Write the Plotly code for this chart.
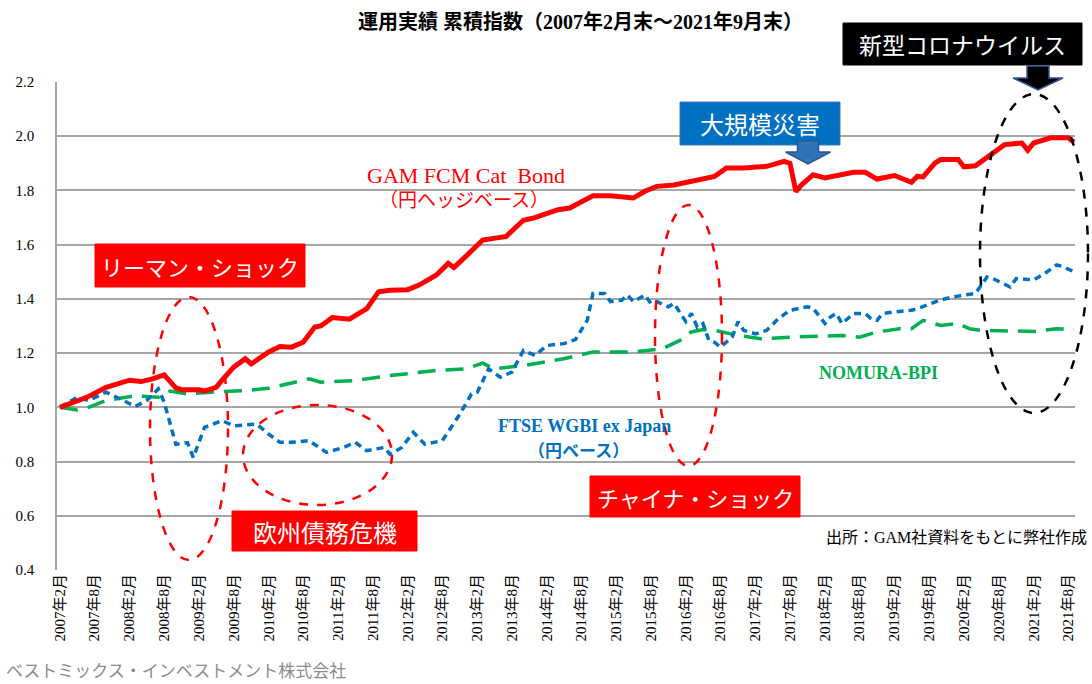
import pandas as pd
import plotly.graph_objects as go

# ---- data (month offsets from 2007-02, index value) ----
tick_labels = ["2007年2月", "2007年8月", "2008年2月", "2008年8月", "2009年2月", "2009年8月",
               "2010年2月", "2010年8月", "2011年2月", "2011年8月", "2012年2月", "2012年8月",
               "2013年2月", "2013年8月", "2014年2月", "2014年8月", "2015年2月", "2015年8月",
               "2016年2月", "2016年8月", "2017年2月", "2017年8月", "2018年2月", "2018年8月",
               "2019年2月", "2019年8月", "2020年2月", "2020年8月", "2021年2月", "2021年8月"]

gam_m = [0, 5, 8, 12, 14, 16, 18, 20, 21, 24, 25, 27, 28, 30, 32, 33, 36, 38, 40, 42, 44, 45, 47, 50,
         53, 55, 57, 60, 62, 65, 67, 68, 70, 73, 76, 77, 80, 82, 85, 86, 88, 92, 95, 99, 101, 103, 106,
         109, 113, 115, 118, 122, 125, 126, 127, 128, 130, 132, 135, 137, 139, 141, 144, 145, 147, 148,
         149, 151, 152, 155, 156, 158, 161, 163, 166, 167, 168, 171, 174, 175]
gam_v = [1.00, 1.04, 1.074, 1.10, 1.095, 1.105, 1.12, 1.072, 1.065, 1.065, 1.06, 1.074, 1.10, 1.148,
         1.179, 1.16, 1.204, 1.224, 1.222, 1.24, 1.296, 1.30, 1.331, 1.325, 1.364, 1.426, 1.432, 1.434,
         1.451, 1.488, 1.531, 1.516, 1.556, 1.617, 1.627, 1.63, 1.69, 1.70, 1.722, 1.729, 1.735, 1.78,
         1.78, 1.772, 1.797, 1.815, 1.82, 1.833, 1.852, 1.883, 1.883, 1.889, 1.907, 1.90, 1.796, 1.821,
         1.858, 1.846, 1.858, 1.867, 1.867, 1.842, 1.855, 1.846, 1.83, 1.852, 1.85, 1.901, 1.914, 1.914,
         1.887, 1.891, 1.938, 1.969, 1.975, 1.948, 1.975, 1.994, 1.994, 1.978]

ftse_m = [0, 3, 5, 8, 11, 13, 15, 17, 18, 20, 22, 23, 25, 28, 30, 34, 36, 38, 40, 43, 46, 49, 51, 53,
          56, 57, 59, 61, 63, 66, 69, 71, 72, 74, 76, 78, 80, 82, 84, 87, 89, 91, 92, 94, 95, 97, 98, 99,
          101, 102, 103, 105, 106, 108, 109, 110, 111, 112, 113, 114, 116, 117, 118, 120, 122, 124, 126,
          129, 130, 132, 133, 134, 135, 137, 139, 140, 141, 142, 144, 147, 148, 149, 152, 154, 156, 158,
          160, 161, 164, 165, 168, 170, 172, 173, 175]
ftse_v = [1.00, 1.037, 1.025, 1.056, 1.025, 1.003, 1.025, 1.068, 1.019, 0.864, 0.87, 0.815, 0.926,
          0.951, 0.932, 0.938, 0.901, 0.871, 0.871, 0.877, 0.834, 0.852, 0.871, 0.84, 0.852, 0.827,
          0.852, 0.908, 0.864, 0.877, 0.975, 1.049, 1.056, 1.142, 1.111, 1.13, 1.21, 1.191, 1.228, 1.235,
          1.25, 1.321, 1.42, 1.42, 1.39, 1.395, 1.414, 1.39, 1.414, 1.383, 1.39, 1.371, 1.383, 1.316,
          1.346, 1.296, 1.309, 1.247, 1.24, 1.222, 1.259, 1.316, 1.284, 1.271, 1.284, 1.327, 1.358,
          1.371, 1.365, 1.309, 1.333, 1.346, 1.309, 1.346, 1.346, 1.327, 1.321, 1.346, 1.352, 1.358,
          1.364, 1.372, 1.396, 1.407, 1.414, 1.42, 1.481, 1.475, 1.444, 1.475, 1.47, 1.494, 1.525, 1.52,
          1.50]

bpi_m = [0, 3, 5, 8, 13, 17, 19, 22, 26, 32, 36, 39, 43, 45, 51, 57, 65, 70, 73, 75, 80, 87, 92, 99,
         104, 107, 109, 111, 113, 117, 121, 126, 132, 135, 138, 141, 145, 147, 149, 152, 155, 157, 159,
         164, 168, 172, 175]
bpi_v = [1.00, 0.99, 1.0, 1.025, 1.043, 1.037, 1.06, 1.049, 1.056, 1.062, 1.07, 1.086, 1.105, 1.093,
         1.099, 1.117, 1.136, 1.142, 1.163, 1.142, 1.154, 1.179, 1.204, 1.204, 1.216, 1.247, 1.278,
         1.287, 1.284, 1.265, 1.253, 1.259, 1.262, 1.265, 1.259, 1.278, 1.29, 1.29, 1.321, 1.302, 1.309,
         1.29, 1.284, 1.28, 1.28, 1.29, 1.287]

start = pd.Timestamp("2007-02-01")
def to_dates(months):
    return [start + pd.DateOffset(months=int(m)) for m in months]

SERIF = "Liberation Serif, Noto Sans CJK JP, serif"
SANS = "Noto Sans CJK JP, sans-serif"

fig = go.Figure()
fig.add_trace(go.Scatter(x=to_dates(bpi_m), y=bpi_v, mode="lines", name="NOMURA-BPI",
                         line=dict(color="#00B050", width=3.5, dash="18px,10px")))
fig.add_trace(go.Scatter(x=to_dates(ftse_m), y=ftse_v, mode="lines", name="FTSE WGBI ex Japan",
                         line=dict(color="#0070C0", width=3.5, dash="7px,5px")))
fig.add_trace(go.Scatter(x=to_dates(gam_m), y=gam_v, mode="lines", name="GAM FCM Cat Bond",
                         line=dict(color="#FF0000", width=5)))

tickvals = [start + pd.DateOffset(months=6 * i) for i in range(len(tick_labels))]

L, R, T, B = 57, 17, 82, 114
W, H = 1092, 684
PW, PH = W - L - R, H - T - B
def px(x):
    return (x - L) / PW
def py(y):
    return (H - B - y) / PH

shapes = []
annotations = []

def ellipse(x0, y0, x1, y1, color):
    shapes.append(dict(type="circle", xref="paper", yref="paper", x0=px(x0), x1=px(x1),
                       y0=py(y1), y1=py(y0), line=dict(color=color, width=2.5, dash="dash")))

ellipse(150, 297, 228, 560, "#FF0000")
ellipse(243, 405, 392, 505, "#FF0000")
ellipse(655, 205, 722, 466, "#FF0000")
ellipse(980, 94, 1088, 413, "#000000")

def box(x0, y0, x1, y1, fill, text, size=22, line=None):
    shapes.append(dict(type="rect", xref="paper", yref="paper", x0=px(x0), x1=px(x1),
                       y0=py(y1), y1=py(y0), fillcolor=fill,
                       line=dict(color=line or fill, width=1), layer="above"))
    annotations.append(dict(xref="paper", yref="paper", x=px((x0 + x1) / 2), y=py((y0 + y1) / 2),
                            text=text, showarrow=False, xanchor="center", yanchor="middle",
                            font=dict(family=SANS, size=size, color="white")))

def down_arrow(cx, ytop, ymid, ybot, shaft_w, head_w, fill, outline):
    pts = [(cx - shaft_w / 2, ytop), (cx + shaft_w / 2, ytop), (cx + shaft_w / 2, ymid),
           (cx + head_w / 2, ymid), (cx, ybot), (cx - head_w / 2, ymid), (cx - shaft_w / 2, ymid)]
    path = "M " + " L ".join(f"{px(x):.5f},{py(y):.5f}" for x, y in pts) + " Z"
    shapes.append(dict(type="path", xref="paper", yref="paper", path=path, fillcolor=fill,
                       line=dict(color=outline, width=1.5), layer="above"))

box(95, 244, 305, 287, "#FF0000", "リーマン・ショック")
box(232, 511, 417, 551, "#FF0000", "欧州債務危機", size=24)
box(590, 476, 800, 517, "#FF0000", "チャイナ・ショック")
box(680, 102, 840, 145, "#0070C0", "大規模災害", size=24, line="#4472C4")
box(843, 23, 1082, 65, "#000000", "新型コロナウイルス", size=23)
down_arrow(808, 141, 152, 164, 21, 45, "#2E75B6", "#2F5597")
down_arrow(1038, 66, 78, 90, 22, 50, "#000000", "#2F5597")

def text(x, y, t, color, size, xanchor="center", family=SERIF, yanchor="middle"):
    annotations.append(dict(xref="paper", yref="paper", x=px(x), y=py(y), text=t, showarrow=False,
                            xanchor=xanchor, yanchor=yanchor,
                            font=dict(family=family, size=size, color=color)))

text(580, 22, "<b>運用実績 累積指数（2007年2月末～2021年9月末）</b>", "#000000", 20)
text(466, 175, "GAM FCM Cat  Bond", "#FF0000", 22)
text(464, 200, "（円ヘッジベース）", "#FF0000", 19)
text(584, 426, "<b>FTSE WGBI ex Japan</b>", "#0070C0", 18)
text(578, 451, "<b>（円ベース）</b>", "#0070C0", 17)
text(878, 373, "<b>NOMURA-BPI</b>", "#00B050", 18)
text(1089, 537, "出所：GAM社資料をもとに弊社作成", "#000000", 16, xanchor="right")
text(4, 684, "ベストミックス・インベストメント株式会社", "#8C8C8C", 17, xanchor="left",
     family=SANS, yanchor="bottom")

fig.update_layout(
    width=W, height=H,
    margin=dict(l=L, r=R, t=T, b=B),
    paper_bgcolor="white", plot_bgcolor="white",
    showlegend=False,
    shapes=shapes, annotations=annotations,
    xaxis=dict(range=[pd.Timestamp("2007-01-16"), pd.Timestamp("2021-09-06")],
               tickvals=tickvals, ticktext=tick_labels, tickangle=-90,
               tickfont=dict(family=SERIF, size=15, color="#000000"),
               showgrid=False, showline=False, zeroline=False, ticks=""),
    yaxis=dict(range=[0.4, 2.2], dtick=0.2, tick0=0.4, tickformat=".1f",
               tickfont=dict(family=SERIF, size=15, color="#000000"),
               showgrid=True, gridcolor="#A6A6A6", gridwidth=1.5,
               showline=True, linecolor="#A6A6A6", linewidth=1.5,
               zeroline=False, ticks="", ticklabelstandoff=18),
)

fig.write_html("out.html", config={"displayModeBar": False},
               post_script="document.body.style.margin='0';document.body.style.padding='0';")
